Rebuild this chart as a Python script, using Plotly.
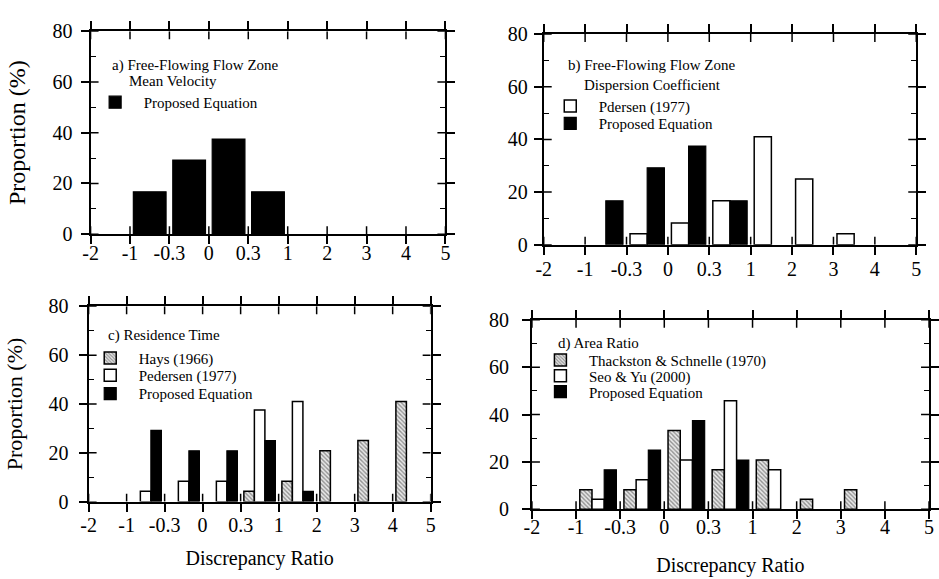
import plotly.graph_objects as go

# Discrepancy-ratio class boundaries (tick labels) and bar heights (%) per class
bin_labels = ["-2", "-1", "-0.3", "0", "0.3", "1", "2", "3", "4", "5"]

a_proposed = [None, 16.7, 29.2, 37.5, 16.7, None, None, None, None]

b_pedersen = [None, None, 4.2, 8.3, 16.7, 41.0, 25.0, 4.2, None]
b_proposed = [None, 16.7, 29.2, 37.5, 16.7, None, None, None, None]

c_hays = [None, None, None, None, 4.2, 8.3, 20.8, 25.0, 41.0]
c_pedersen = [None, 4.2, 8.3, 8.3, 37.5, 41.0, None, None, None]
c_proposed = [None, 29.2, 20.8, 20.8, 25.0, 4.2, None, None, None]

d_thackston = [None, 8.3, 8.3, 33.3, 16.7, 20.8, 4.2, 8.3, None]
d_seo = [None, 4.2, 12.5, 20.8, 45.8, 16.7, None, None, None]
d_proposed = [None, 16.7, 25.0, 37.5, 20.8, None, None, None, None]

y_major = [0, 20, 40, 60, 80]
y_minor = [10, 30, 50, 70]

FONT = "Liberation Serif, Times New Roman, serif"
W, H = 939, 579

tick_pos = list(range(len(bin_labels)))
centers = [i + 0.5 for i in range(len(bin_labels) - 1)]

BLACK = dict(color="black", line=dict(color="black", width=1.2))
WHITE = dict(color="white", line=dict(color="black", width=1.5))
HATCH = dict(color="white", line=dict(color="black", width=1.5),
             pattern=dict(shape="\\", fgcolor="#3a3a3a", bgcolor="#e8e8e8",
                          size=3, solidity=0.45))

# plot areas in pixels: (left, right, top, bottom)
panels = {
    1: (84, 445, 21, 232),
    2: (545, 924, 24, 243),
    3: (82, 430, 307, 510),
    4: (533, 937, 321, 518),
}
# per-panel label offsets (x labels, y labels), axis-title settings
label_offset = {1: (-8, 4), 2: (-3, 2), 3: (-4, 6), 4: (-9, 9)}
ytitle_size = {1: 24, 3: 22}
xtitle_standoff = {3: 16, 4: 21}

# legend heading lines: (text, left px, centre y px)
headings = [
    ("a) Free-Flowing Flow Zone", 104, 57),
    ("Mean Velocity", 121, 73),
    ("b) Free-Flowing Flow Zone", 568, 57),
    ("Dispersion Coefficient", 584, 77),
    ("c) Residence Time", 100, 337),
    ("d) Area Ratio", 558, 346),
]

# series per panel: (values, name, style, symbol centre x px, item centre y px)
series = {
    1: [(a_proposed, "Proposed Equation", BLACK, 115, 95)],
    2: [(b_pedersen, "Pdersen (1977)", WHITE, 578, 99),
        (b_proposed, "Proposed Equation", BLACK, 578, 117)],
    3: [(c_hays, "Hays (1966)", HATCH, 110, 361),
        (c_pedersen, "Pedersen (1977)", WHITE, 110, 379),
        (c_proposed, "Proposed Equation", BLACK, 110, 398)],
    4: [(d_thackston, "Thackston & Schnelle (1970)", HATCH, 568, 363),
        (d_seo, "Seo & Yu (2000)", WHITE, 568, 379.5),
        (d_proposed, "Proposed Equation", BLACK, 568, 396)],
}
ITEM_W = 47
SYMBOL_OFFSET = 35  # symbol centre measured from a legend's left edge

fig = go.Figure()
layout = dict(
    width=W, height=H, margin=dict(l=0, r=0, t=0, b=0),
    paper_bgcolor="white", plot_bgcolor="white",
    font=dict(family=FONT, color="black", size=18),
    bargap=0.17, bargroupgap=0, barmode="group", showlegend=True,
)

LEG_FONT = 15
shapes = []
leg_id = 0
for n, (l, r, t, b) in panels.items():
    sfx = "" if n == 1 else str(n)
    xoff, yoff = label_offset[n]
    for vals, name, style, sx, sy in series[n]:
        leg_id += 1
        lname = "legend" if leg_id == 1 else "legend%d" % leg_id
        fig.add_trace(go.Bar(x=centers, y=vals, name=name, marker=style,
                             xaxis="x" + sfx, yaxis="y" + sfx, legend=lname,
                             showlegend=True))
        layout[lname] = dict(
            visible=True,
            x=(sx - SYMBOL_OFFSET) / W, y=1 - sy / H,
            xanchor="left", yanchor="middle",
            bgcolor="rgba(0,0,0,0)", borderwidth=0,
            font=dict(family=FONT, size=LEG_FONT), itemwidth=ITEM_W,
        )

    xa = dict(
        domain=[l / W, r / W], anchor="y" + sfx, range=[0, len(bin_labels) - 1],
        tickmode="array", tickvals=tick_pos, ticktext=bin_labels,
        ticks="outside", ticklen=8, tickwidth=1.5, tickcolor="black",
        ticklabelstandoff=xoff,
        showline=True, linecolor="black", linewidth=2, mirror="ticks",
        showgrid=False, zeroline=False, fixedrange=True,
        tickfont=dict(family=FONT, size=20),
    )
    ya = dict(
        domain=[1 - b / H, 1 - t / H], anchor="x" + sfx, range=[0, 80],
        tickmode="array", tickvals=y_major,
        ticks="outside", ticklen=8, tickwidth=1.5, tickcolor="black",
        ticklabelstandoff=yoff,
        minor=dict(tickmode="array", tickvals=y_minor, ticks="inside",
                   ticklen=5, tickwidth=1.2, tickcolor="black"),
        showline=True, linecolor="black", linewidth=2, mirror="ticks",
        showgrid=False, zeroline=False, fixedrange=True,
        tickfont=dict(family=FONT, size=20),
    )
    if n in ytitle_size:
        ya["title"] = dict(text="Proportion (%)",
                           font=dict(family=FONT, size=ytitle_size[n]), standoff=20)
    if n in xtitle_standoff:
        xa["title"] = dict(text="Discrepancy Ratio", font=dict(family=FONT, size=20),
                           standoff=xtitle_standoff[n])
    layout["xaxis" + sfx] = xa
    layout["yaxis" + sfx] = ya

    # inner halves of the crossing tick marks
    xr, yr = "x" + sfx, "y" + sfx
    last = len(bin_labels) - 1
    for p in tick_pos:
        shapes.append(dict(type="line", xref=xr, yref=yr, x0=p, x1=p,
                           ysizemode="pixel", yanchor=0, y0=0, y1=8,
                           line=dict(color="black", width=1.5)))
        shapes.append(dict(type="line", xref=xr, yref=yr, x0=p, x1=p,
                           ysizemode="pixel", yanchor=80, y0=-8, y1=0,
                           line=dict(color="black", width=1.5)))
    for v in y_major:
        shapes.append(dict(type="line", xref=xr, yref=yr, y0=v, y1=v,
                           xsizemode="pixel", xanchor=0, x0=0, x1=8,
                           line=dict(color="black", width=1.5)))
        shapes.append(dict(type="line", xref=xr, yref=yr, y0=v, y1=v,
                           xsizemode="pixel", xanchor=last, x0=-8, x1=0,
                           line=dict(color="black", width=1.5)))

layout["shapes"] = shapes
layout["annotations"] = [
    dict(text=txt, x=px / W, y=1 - py / H, xref="paper", yref="paper",
         xanchor="left", yanchor="middle", showarrow=False,
         font=dict(family=FONT, size=LEG_FONT))
    for txt, px, py in headings
]
fig.update_layout(**layout)

fig.write_html("out.html")
